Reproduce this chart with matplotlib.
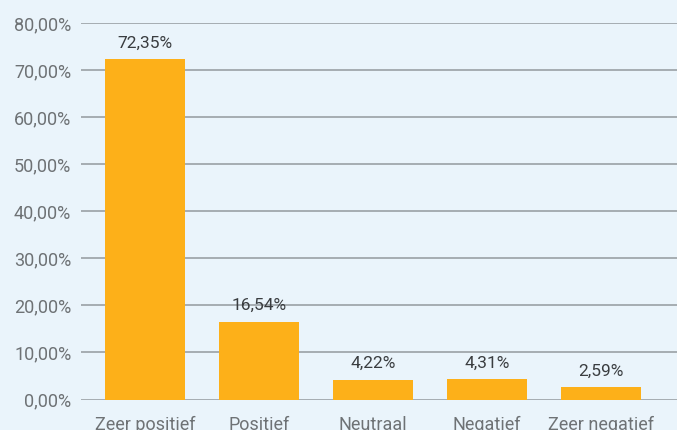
import matplotlib
matplotlib.use('Agg')
import matplotlib.pyplot as plt
from matplotlib.ticker import FuncFormatter

categories = ['Zeer positief', 'Positief', 'Neutraal', 'Negatief', 'Zeer negatief']
values = [72.35, 16.54, 4.22, 4.31, 2.59]
yticks = [0, 10, 20, 30, 40, 50, 60, 70, 80]

BG = '#EAF4FB'
BAR = '#FDB019'
GRID = '#9AA0A5'

plt.rcParams['font.family'] = ['Roboto', 'DejaVu Sans']

W, H = 677, 430
fig = plt.figure(figsize=(W / 100, H / 100), dpi=100, facecolor=BG)
ax = fig.add_axes([81 / W, (H - 399.5) / H, (W - 81) / W, (399.5 - 23) / H])
ax.set_facecolor(BG)

x = range(len(categories))
bars = ax.bar(x, values, width=0.70, color=BAR, zorder=3)
for b, v in zip(bars, values):
    ax.annotate(f'{v:.2f}%'.replace('.', ','), (b.get_x() + b.get_width() / 2, v),
                xytext=(0, 6), textcoords='offset points', ha='center', va='bottom',
                fontsize=12.5, color='#3A3D40')

ax.set_ylim(0, 80)
ax.set_xlim(-0.561, 4.667)
ax.set_yticks(yticks)
ax.yaxis.set_major_formatter(FuncFormatter(lambda v, p: f'{v:.2f}%'.replace('.', ',')))
ax.set_xticks(list(x))
ax.set_xticklabels(categories)
ax.grid(axis='y', color=GRID, lw=1.2, zorder=0)
ax.tick_params(axis='both', length=0, labelsize=13, labelcolor='#6E7275')
ax.tick_params(axis='y', pad=7)
ax.tick_params(axis='x', pad=12)
for s in ax.spines.values():
    s.set_visible(False)

fig.savefig('out.png', dpi=100, facecolor=BG)
